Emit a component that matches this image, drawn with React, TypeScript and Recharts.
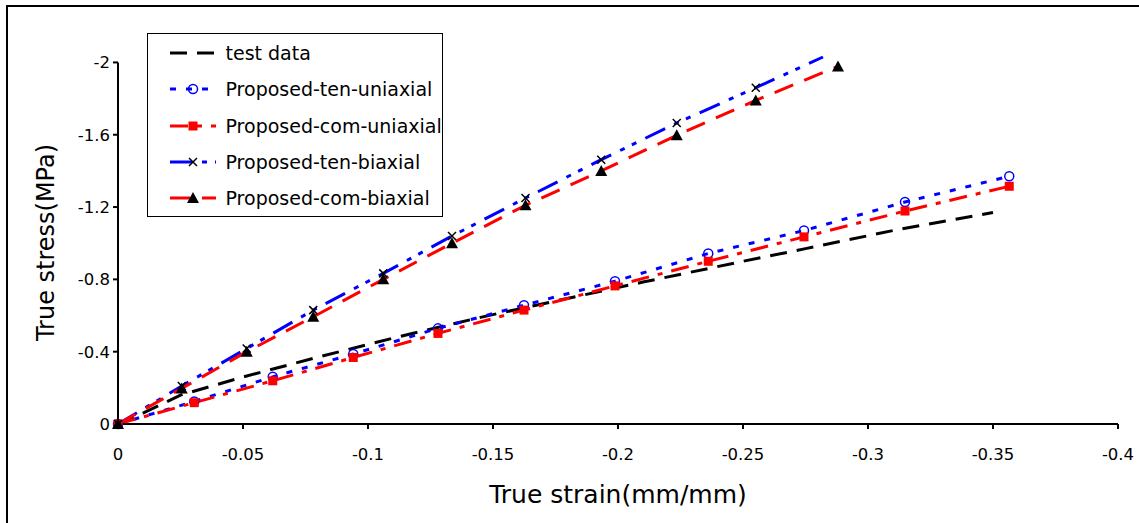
import React from 'react';
import { LineChart, Line, XAxis, YAxis, Legend, ReferenceLine, Customized } from 'recharts';

// strain values (mm/mm) and stress values (MPa)
const testStrain = [0, -0.01, -0.025, -0.05, -0.08, -0.11, -0.145, -0.175, -0.21, -0.25, -0.275, -0.31, -0.35];
const testStress = [0, -0.06, -0.16, -0.26, -0.37, -0.475, -0.59, -0.68, -0.785, -0.9, -0.97, -1.07, -1.17];

const uniStrain = [0, -0.0305, -0.0619, -0.0941, -0.128, -0.1624, -0.1988, -0.2361, -0.2744, -0.3148, -0.3565];
const tenUniStress = [0, -0.125, -0.261, -0.387, -0.529, -0.657, -0.79, -0.943, -1.07, -1.228, -1.37];
const comUniStress = [0, -0.118, -0.239, -0.368, -0.501, -0.63, -0.764, -0.9, -1.035, -1.178, -1.315];

const tenBiStrain = [0, -0.0255, -0.0515, -0.0781, -0.1061, -0.1336, -0.163, -0.1933, -0.2235, -0.2551, -0.282];
const tenBiStress = [0, -0.21, -0.418, -0.63, -0.833, -1.04, -1.25, -1.462, -1.665, -1.86, -2.03];
const comBiStrain = [0, -0.0255, -0.0515, -0.0781, -0.1061, -0.1336, -0.163, -0.1933, -0.2235, -0.2551, -0.288];
const comBiStress = [0, -0.197, -0.4, -0.593, -0.8, -1.0, -1.21, -1.4, -1.597, -1.79, -1.978];

const xTicks = [0, -0.05, -0.1, -0.15, -0.2, -0.25, -0.3, -0.35, -0.4];
const yTicks = [0, -0.4, -0.8, -1.2, -1.6, -2];

const FONT = '"DejaVu Sans", Verdana, sans-serif';

const zip = (xs: number[], ys: number[]) => xs.map((x, i) => ({ x, y: ys[i] }));

type MarkerKind = 'none' | 'circle' | 'square' | 'cross' | 'triangle';

const series = [
  { name: 'test data', data: zip(testStrain, testStress), color: '#000000', dash: '17 10', marker: 'none' as MarkerKind, markerColor: '#000' },
  { name: 'Proposed-ten-uniaxial', data: zip(uniStrain, tenUniStress), color: '#0000ff', dash: '6 10', marker: 'circle' as MarkerKind, markerColor: '#0000ff' },
  { name: 'Proposed-com-uniaxial', data: zip(uniStrain, comUniStress), color: '#ff0000', dash: '18 9 5 9', marker: 'square' as MarkerKind, markerColor: '#ff0000' },
  { name: 'Proposed-ten-biaxial', data: zip(tenBiStrain, tenBiStress), color: '#0000ff', dash: '22 10 5 8 5 10', marker: 'cross' as MarkerKind, markerColor: '#000' },
  { name: 'Proposed-com-biaxial', data: zip(comBiStrain, comBiStress), color: '#ff0000', dash: '20 12', marker: 'triangle' as MarkerKind, markerColor: '#000' },
];

function Marker({ kind, cx, cy, color }: { kind: MarkerKind; cx: number; cy: number; color: string }) {
  if (kind === 'circle') return <circle cx={cx} cy={cy} r={4.5} fill="none" stroke={color} strokeWidth={1.5} />;
  if (kind === 'square') return <rect x={cx - 4.5} y={cy - 4.5} width={9} height={9} fill={color} />;
  if (kind === 'cross')
    return (
      <path
        d={`M${cx - 4},${cy - 4}L${cx + 4},${cy + 4}M${cx - 4},${cy + 4}L${cx + 4},${cy - 4}`}
        stroke={color}
        strokeWidth={1.5}
      />
    );
  if (kind === 'triangle') return <path d={`M${cx},${cy - 6}L${cx + 6},${cy + 5}L${cx - 6},${cy + 5}Z`} fill={color} />;
  return null;
}

const makeDot = (kind: MarkerKind, color: string) => (props: any) => {
  const { cx, cy, payload, index } = props;
  // like the original, markers outside the axis range are not drawn
  if (kind === 'none' || payload.y < -2) return <g key={index} />;
  return (
    <g key={index}>
      <Marker kind={kind} cx={cx} cy={cy} color={color} />
    </g>
  );
};

const LegendBox = () => (
  <div
    style={{
      boxSizing: 'border-box',
      width: 296,
      height: 184,
      border: '1.5px solid #000',
      background: '#fff',
      paddingTop: 1,
      fontFamily: FONT,
      fontSize: 19,
      color: '#000',
    }}
  >
    {series.map((s) => (
      <div key={s.name} style={{ display: 'flex', alignItems: 'center', height: 36.25 }}>
        <svg width={46} height={14} style={{ marginLeft: 22, overflow: 'visible' }}>
          <line x1={0} y1={7} x2={46} y2={7} stroke={s.color} strokeWidth={3} strokeDasharray={s.dash} />
          <Marker kind={s.marker} cx={23} cy={7} color={s.markerColor} />
        </svg>
        <span style={{ marginLeft: 9.5, whiteSpace: 'nowrap' }}>{s.name}</span>
      </div>
    ))}
  </div>
);

const renderYTitle = (props: any) => {
  const vb = props.viewBox || {};
  const cx = (vb.x ?? 38) + 8;
  const cy = (vb.y ?? 57) + (vb.height ?? 367) / 2 + 2;
  return (
    <text
      x={cx}
      y={cy}
      transform={`rotate(-90 ${cx} ${cy})`}
      textAnchor="middle"
      dominantBaseline="central"
      fontSize={24}
      fontFamily={FONT}
      fill="#000"
    >
      True stress(MPa)
    </text>
  );
};

// outer frame of the figure (cut off at right and bottom in the original)
const Frame = () => (
  <g>
    <line x1={7} y1={6} x2={7} y2={523} stroke="#000" strokeWidth={2} />
    <line x1={6} y1={6} x2={1139} y2={6} stroke="#000" strokeWidth={2} />
  </g>
);

const tickStyle = { fill: '#000', fontSize: 16.5, fontFamily: FONT };

export default function App() {
  return (
    <div style={{ position: 'fixed', left: 0, top: 0, width: 1139, height: 523, overflow: 'hidden', background: '#fff' }}>
      <LineChart width={1139} height={523} margin={{ top: 57, right: 21, bottom: 39, left: 38 }}>
        <Customized component={<Frame />} />
        <XAxis
          type="number"
          dataKey="x"
          domain={[-0.4, 0]}
          ticks={xTicks}
          reversed
          height={60}
          stroke="#000"
          axisLine={{ stroke: '#000', strokeWidth: 2 }}
          tickLine={{ stroke: '#000', strokeWidth: 2 }}
          tickSize={5}
          tickMargin={19}
          tick={tickStyle}
          label={{ value: 'True strain(mm/mm)', position: 'bottom', offset: 1, fill: '#000', fontSize: 25, fontFamily: FONT }}
        />
        <YAxis
          type="number"
          dataKey="y"
          domain={[-2.03, 0]}
          ticks={yTicks}
          reversed
          width={80}
          axisLine={false}
          tickLine={{ stroke: '#000', strokeWidth: 2 }}
          tickSize={5}
          tickMargin={3}
          tick={tickStyle}
          label={{ content: renderYTitle }}
        />
        <ReferenceLine
          segment={[
            { x: 0, y: 0 },
            { x: 0, y: -2 },
          ]}
          stroke="#000"
          strokeWidth={2}
        />
        <Legend
          layout="vertical"
          align="center"
          verticalAlign="middle"
          content={<LegendBox />}
          wrapperStyle={{ left: 147, top: 33, width: 296, height: 184 }}
        />
        {series.map((s) => (
          <Line
            key={s.name}
            data={s.data}
            dataKey="y"
            name={s.name}
            type="linear"
            stroke={s.color}
            strokeWidth={3}
            strokeDasharray={s.dash}
            dot={makeDot(s.marker, s.markerColor)}
            activeDot={false}
            isAnimationActive={false}
          />
        ))}
      </LineChart>
      <div
        style={{
          position: 'absolute',
          left: 6,
          top: 5,
          width: 1200,
          height: 600,
          borderLeft: '2px solid #000',
          borderTop: '2px solid #000',
          pointerEvents: 'none',
          zIndex: 5,
        }}
      />
    </div>
  );
}
